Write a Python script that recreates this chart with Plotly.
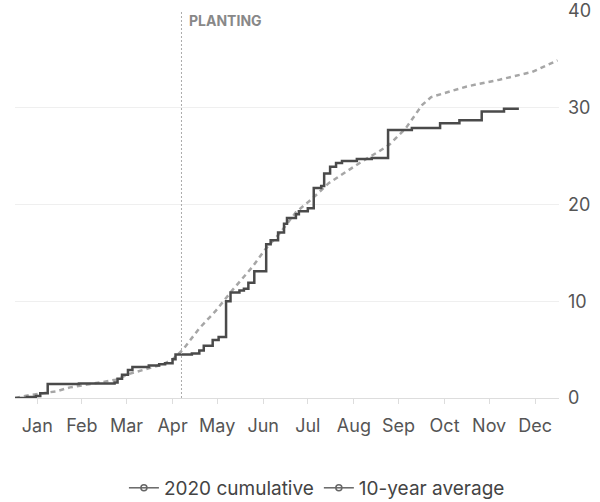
import plotly.graph_objects as go

# 2020 cumulative (step changes: date, value after change)
cum_dates = ["2020-01-01", "2020-01-09", "2020-01-15", "2020-01-18", "2020-01-23",
             "2020-02-13", "2020-03-08", "2020-03-10", "2020-03-13", "2020-03-17",
             "2020-03-20", "2020-03-31", "2020-04-07", "2020-04-11", "2020-04-16",
             "2020-04-18", "2020-04-29", "2020-05-04", "2020-05-07", "2020-05-13",
             "2020-05-17", "2020-05-22", "2020-05-25", "2020-05-31", "2020-06-03",
             "2020-06-06", "2020-06-10", "2020-06-18", "2020-06-21", "2020-06-26",
             "2020-06-30", "2020-07-02", "2020-07-08", "2020-07-10", "2020-07-16",
             "2020-07-20", "2020-07-25", "2020-07-27", "2020-07-31", "2020-08-04",
             "2020-08-08", "2020-08-18", "2020-08-28", "2020-09-08", "2020-09-24",
             "2020-10-13", "2020-10-26", "2020-11-10", "2020-11-25", "2020-12-05"]
cum_values = [0.0, 0.1, 0.2, 0.5, 1.45,
              1.5, 1.6, 2.0, 2.4, 2.9,
              3.2, 3.35, 3.5, 3.6, 4.0,
              4.5, 4.6, 4.9, 5.4, 6.0,
              6.3, 10.0, 10.9, 11.1, 11.3,
              11.9, 13.1, 15.9, 16.3, 17.1,
              18.0, 18.6, 19.0, 19.3, 19.6,
              21.7, 21.9, 23.2, 23.9, 24.3,
              24.5, 24.7, 24.8, 27.7, 27.9,
              28.4, 28.7, 29.6, 29.9, 29.9]

# 10-year average
avg_dates = ["2020-01-01", "2020-01-11", "2020-01-29", "2020-02-07", "2020-02-27",
             "2020-03-09", "2020-03-18", "2020-04-10", "2020-04-16", "2020-04-23",
             "2020-05-04", "2020-05-15", "2020-05-26", "2020-06-09", "2020-06-17",
             "2020-06-27", "2020-07-08", "2020-07-19", "2020-07-30", "2020-08-11",
             "2020-08-22", "2020-09-02", "2020-09-09", "2020-09-20", "2020-10-01",
             "2020-10-07", "2020-10-31", "2020-11-22", "2020-12-03", "2020-12-14",
             "2020-12-31"]
avg_values = [0.0, 0.3, 0.7, 1.1, 1.6,
              1.9, 2.5, 3.5, 4.0, 5.0,
              7.2, 9.0, 11.1, 13.6, 15.3,
              17.0, 19.2, 20.6, 22.2, 23.4,
              24.5, 25.5, 26.2, 27.9, 30.3,
              31.1, 32.2, 32.9, 33.3, 33.7,
              34.9]

month_ticks = ["2020-01-16", "2020-02-15", "2020-03-16", "2020-04-16", "2020-05-16",
               "2020-06-16", "2020-07-16", "2020-08-16", "2020-09-15", "2020-10-16",
               "2020-11-15", "2020-12-16"]
month_labels = ["Jan", "Feb", "Mar", "Apr", "May", "Jun", "Jul", "Aug", "Sep", "Oct", "Nov", "Dec"]
y_ticks = [0, 10, 20, 30, 40]
planting_date = "2020-04-22"

FONT = "Inter"
fig = go.Figure()

fig.add_trace(go.Scatter(x=avg_dates, y=avg_values, mode="lines", showlegend=False,
                         line=dict(color="#a6a6a6", width=2.5, dash="5px,4px")))
fig.add_trace(go.Scatter(x=cum_dates, y=cum_values, mode="lines", showlegend=False,
                         line=dict(color="#4a4a4a", width=2.5, shape="hv")))

for name in ["2020 cumulative", "10-year average"]:
    fig.add_trace(go.Scatter(x=[None], y=[None], mode="lines+markers", name=name,
                             line=dict(color="#666666", width=1.5),
                             marker=dict(symbol="circle-open", size=6, color="#666666",
                                         line=dict(width=1.5))))

fig.add_shape(type="line", x0=planting_date, x1=planting_date, xref="x", yref="paper",
              y0=0, y1=1.0, line=dict(color="#aaaaaa", width=1, dash="2px,2px"))
fig.add_annotation(x=planting_date, y=1.0, xref="x", yref="paper", text="<b>PLANTING</b>",
                   showarrow=False, xanchor="left", yanchor="top", xshift=6, yshift=0,
                   font=dict(family=FONT, size=14, color="#888888"))

fig.update_layout(
    width=600, height=502,
    margin=dict(l=15, r=41, t=10, b=104),
    paper_bgcolor="white", plot_bgcolor="white",
    font=dict(family=FONT, color="#555555"),
    legend=dict(orientation="h", x=0.555, xanchor="center", xref="paper",
                y=0.028, yanchor="middle", yref="container",
                font=dict(family=FONT, size=19, color="#444444"), itemwidth=30,
                traceorder="normal"),
    xaxis=dict(type="date", range=["2020-01-01", "2021-01-01"], tickvals=month_ticks,
               ticktext=month_labels, showgrid=False, showline=True, linecolor="#dddddd",
               linewidth=1, ticks="outside", ticklen=5, tickcolor="#dddddd",
               tickfont=dict(family=FONT, size=18, color="#555555"), ticklabelstandoff=6,
               zeroline=False, automargin=False),
    yaxis=dict(range=[0, 40.1], side="right", tickvals=y_ticks, showgrid=True,
               gridcolor="#efefef", gridwidth=1, zeroline=False, showline=False,
               ticks="", tickfont=dict(family=FONT, size=18, color="#555555"),
               ticklabelstandoff=8, automargin=False),
)

fig.write_html("out.html", config={"displayModeBar": False},
               post_script="document.body.style.margin='0';")
